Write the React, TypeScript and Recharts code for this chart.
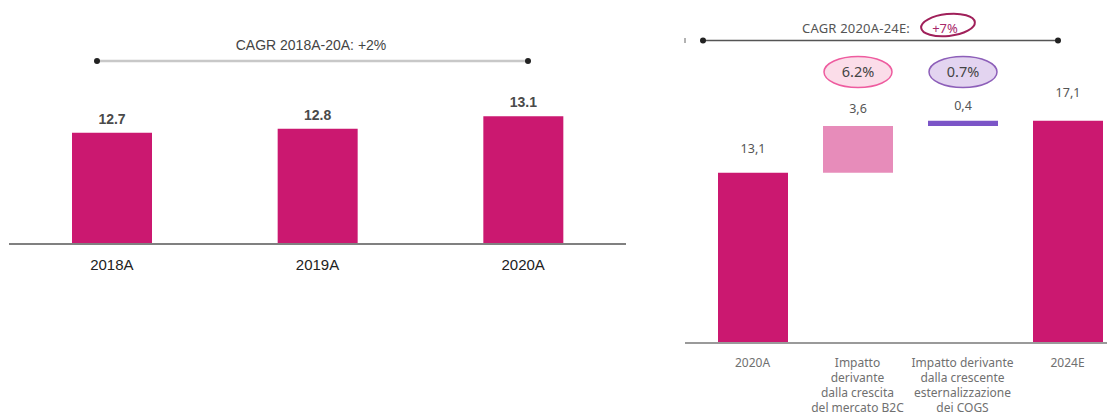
import React from 'react';
import { BarChart, Bar, XAxis, YAxis, Cell, LabelList } from 'recharts';

// left chart: historical revenues
const histYears = ['2018A', '2019A', '2020A'];
const histValues = [12.7, 12.8, 13.1];
const histCagr = 'CAGR 2018A-20A: +2%';

// right chart: bridge 2020A -> 2024E
const bridgeCategories = [
  '2020A',
  'Impatto\nderivante\ndalla crescita\ndel mercato B2C',
  'Impatto derivante\ndalla crescente\nesternalizzazione\ndei COGS',
  '2024E',
];
const bridgeValues = [13.1, 3.6, 0.4, 17.1];
const bridgeKinds = ['total', 'delta', 'delta', 'total'];
const bridgeShares = ['', '6.2%', '0.7%', ''];
const bridgeCagrLabel = 'CAGR 2020A-24E:';
const bridgeCagrValue = '+7%';

const MAGENTA = '#cb1870';
const bridgeColors = [MAGENTA, '#e78cba', '#7b55c7', MAGENTA];
const shareStyles = [
  null,
  { fill: '#fbdde9', stroke: '#ee5c9f' },
  { fill: '#e3d4f0', stroke: '#8d5fb9' },
  null,
];
const labelGap = [20, 13, 11, 24];

const histData = histYears.map((year, i) => ({ year, value: histValues[i] }));

let running = 0;
const bridgeData = bridgeCategories.map((name, i) => {
  const v = bridgeValues[i];
  let base = 0;
  if (bridgeKinds[i] === 'total') {
    running = v;
  } else {
    base = running;
    running += v;
  }
  return { name, base, value: v, share: bridgeShares[i] };
});

const sans = '"Noto Sans", "Open Sans", sans-serif';
const arial = '"Liberation Sans", Arial, sans-serif';

const BridgeTick = (props: any) => {
  const { x, y, payload } = props;
  const lines = String(payload.value).split('\n');
  return (
    <text x={x} y={y} textAnchor="middle" fontFamily={sans} fontSize={12} fill="#707070">
      {lines.map((l, i) => (
        <tspan key={i} x={x} dy={i === 0 ? 16 : 15}>
          {l}
        </tspan>
      ))}
    </text>
  );
};

const BridgeValueLabel = (props: any) => {
  const { x, y, width, index, value } = props;
  return (
    <text
      x={x + width / 2}
      y={y - labelGap[index]}
      textAnchor="middle"
      fontFamily={sans}
      fontSize={12.5}
      fill="#555"
    >
      {Number(value).toFixed(1).replace('.', ',')}
    </text>
  );
};

const ShareBubble = (props: any) => {
  const { x, width, index, value } = props;
  const st = shareStyles[index];
  if (!value || !st) return null;
  const cx = x + width / 2;
  return (
    <g>
      <ellipse cx={cx} cy={72} rx={34} ry={15.5} fill={st.fill} stroke={st.stroke} strokeWidth={1.5} />
      <text x={cx} y={77} textAnchor="middle" fontFamily={sans} fontSize={14.5} fill="#444">
        {value}
      </text>
    </g>
  );
};

export default function App() {
  return (
    <div
      style={{
        position: 'absolute',
        left: 0,
        top: 0,
        width: 1107,
        height: 416,
        overflow: 'hidden',
        background: '#fff',
      }}
    >
      <div style={{ position: 'absolute', left: 0, top: 0 }}>
        <BarChart
          width={640}
          height={416}
          data={histData}
          margin={{ top: 38, right: 14, left: 9, bottom: 0 }}
        >
          <YAxis hide domain={[10, 15]} />
          <XAxis
            dataKey="year"
            height={172}
            axisLine={{ stroke: '#808080', strokeWidth: 2 }}
            tickLine={false}
            tickMargin={9}
            tick={{ fontSize: 15, fill: '#222', fontFamily: arial }}
          />
          <Bar dataKey="value" fill={MAGENTA} barSize={80} isAnimationActive={false}>
            <LabelList
              dataKey="value"
              position="top"
              offset={9}
              formatter={(v: any) => Number(v).toFixed(1)}
              style={{ fontSize: 14, fontWeight: 700, fill: '#4a4a4a', fontFamily: arial }}
            />
          </Bar>
        </BarChart>
      </div>

      <div style={{ position: 'absolute', left: 670, top: 0 }}>
        <BarChart
          width={460}
          height={416}
          data={bridgeData}
          margin={{ top: 83, right: 10, left: 15, bottom: 0 }}
        >
          <YAxis hide domain={[0, 20]} />
          <XAxis
            dataKey="name"
            height={73}
            padding={{ left: 15 }}
            interval={0}
            axisLine={{ stroke: '#9a9a9a', strokeWidth: 2 }}
            tickLine={false}
            tick={<BridgeTick />}
          />
          <Bar dataKey="base" stackId="w" fill="transparent" barSize={70} isAnimationActive={false} />
          <Bar dataKey="value" stackId="w" barSize={70} isAnimationActive={false}>
            {bridgeData.map((d, i) => (
              <Cell key={d.name} fill={bridgeColors[i]} />
            ))}
            <LabelList dataKey="value" content={<BridgeValueLabel />} />
            <LabelList dataKey="share" content={<ShareBubble />} />
          </Bar>
        </BarChart>
      </div>

      <svg
        width={1107}
        height={416}
        style={{ position: 'absolute', left: 0, top: 0, pointerEvents: 'none' }}
      >
        {/* left CAGR bracket */}
        <text x={311} y={50} textAnchor="middle" fontFamily={arial} fontSize={14} fill="#444">
          {histCagr}
        </text>
        <line x1={97} y1={61} x2={528} y2={61} stroke="#c8c8c8" strokeWidth={2.5} />
        <circle cx={97} cy={61} r={3} fill="#222" />
        <circle cx={528} cy={61} r={3} fill="#222" />

        {/* right CAGR bracket */}
        <text x={802} y={33} fontFamily={sans} fontSize={13} fill="#555" letterSpacing={0.2}>
          {bridgeCagrLabel}
        </text>
        <text x={945} y={33} textAnchor="middle" fontFamily={sans} fontSize={13} fill="#a8286a">
          {bridgeCagrValue}
        </text>
        <ellipse
          cx={948}
          cy={25}
          rx={27}
          ry={11}
          fill="none"
          stroke="#a0205a"
          strokeWidth={2}
          transform="rotate(-6 948 25)"
        />
        <line x1={685} y1={38} x2={685} y2={43} stroke="#666" strokeWidth={1} />
        <line x1={703} y1={40.5} x2={1058} y2={40.5} stroke="#555" strokeWidth={1.5} />
        <circle cx={703} cy={40.5} r={3} fill="#222" />
        <circle cx={1058} cy={40.5} r={3} fill="#222" />
      </svg>
    </div>
  );
}
